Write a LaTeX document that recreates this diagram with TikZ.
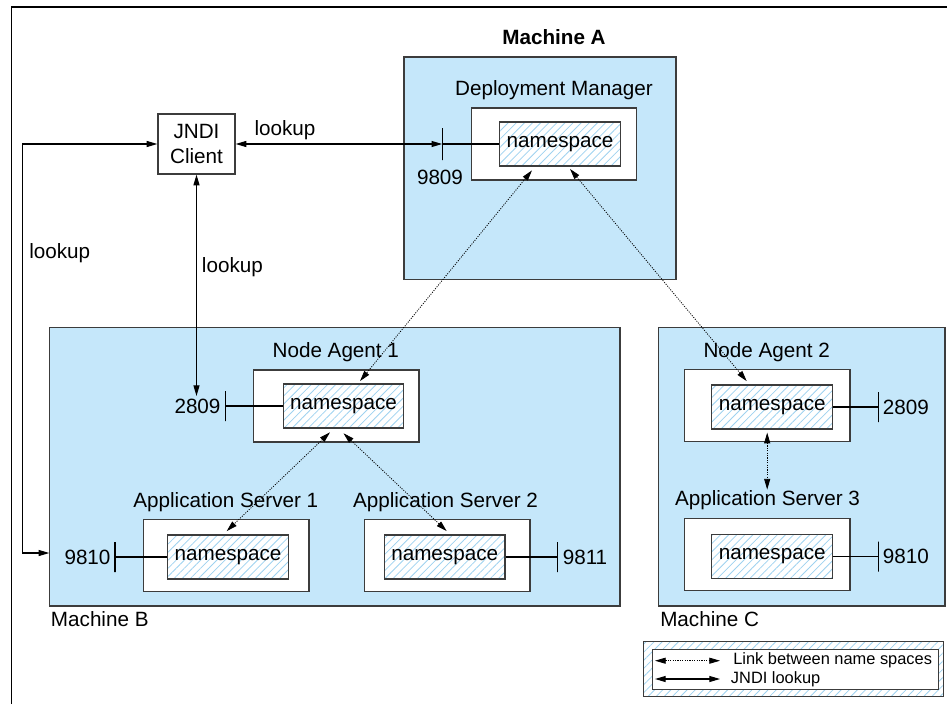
\documentclass[tikz,border=0pt]{standalone}
\usepackage{fontspec}
\setmainfont{Liberation Sans}
\usepackage{tikz}
\usetikzlibrary{positioning,arrows.meta,patterns.meta}
\definecolor{machinefill}{RGB}{197,231,250}
\definecolor{boxline}{RGB}{60,60,60}
\definecolor{hatch}{RGB}{158,210,240}
\tikzstyle{machine} = [draw=boxline, line width=1pt, fill=machinefill, inner sep=0pt]
\tikzstyle{server} = [draw=boxline, line width=1pt, fill=white, minimum width=124pt, minimum height=54pt, inner sep=0pt]
\tikzstyle{ns} = [draw=boxline, line width=0.9pt, preaction={fill=white}, pattern={Lines[angle=45,distance=4.3pt,line width=0.6pt]}, pattern color=hatch, minimum width=90.5pt, minimum height=33pt, inner sep=0pt]
\tikzstyle{port} = [draw, line width=0.8pt, minimum width=0pt, minimum height=22.5pt, inner sep=0pt]
\tikzstyle{lookup} = [line width=0.8pt, {Triangle[length=8pt,width=4.5pt]}-{Triangle[length=8pt,width=4.5pt]}]
\tikzstyle{link} = [line width=0.6pt, dash pattern=on 0.8pt off 1pt, {Triangle[length=8pt,width=4.5pt]}-{Triangle[length=8pt,width=4.5pt]}]
\tikzstyle{lbl} = [inner sep=0pt, font=\fontsize{15.5}{18}\selectfont]
\tikzstyle{small} = [inner sep=0pt, font=\fontsize{12.3}{15}\selectfont]

\begin{document}
\begin{tikzpicture}[x=0.75pt, y=-0.75pt]
	\useasboundingbox (0,0) rectangle (947,704);
	\draw[line width=1pt] (11.5,704) -- (11.5,7) -- (947,7);
	\node[machine, minimum width=204pt, minimum height=166.7pt] (ma) at (540,168.2) {};
	\node[machine, minimum width=428pt, minimum height=209pt] (mb) at (334.7,466.7) {};
	\node[machine, minimum width=215pt, minimum height=209pt] (mc) at (801.7,466.7) {};
	\node[lbl, font=\fontsize{15.5}{18}\selectfont\bfseries] (malbl) at (554,37.5) {Machine A};
	\node[lbl, anchor=west] (mblbl) at (50.7,619.3) {Machine B};
	\node[lbl, anchor=west] (mclbl) at (660,619.3) {Machine C};
	\node[server] (dm) at (554,144) {};
	\node[server] (na1) at (336.2,406) {};
	\node[server] (as1) at (226.2,555.2) {};
	\node[server] (as2) at (447.2,555.2) {};
	\node[server] (na2) at (767.2,405.5) {};
	\node[server] (as3) at (767.2,554.4) {};
	\node[lbl] (dmlbl) at (554,90) {Deployment Manager};
	\node[lbl] (na1lbl) at (335.8,352.3) {Node Agent 1};
	\node[lbl] (as1lbl) at (225.8,501.7) {Application Server 1};
	\node[lbl] (as2lbl) at (445.5,501.7) {Application Server 2};
	\node[lbl] (na2lbl) at (766.7,351.7) {Node Agent 2};
	\node[lbl] (as3lbl) at (767.5,500) {Application Server 3};
	\node[ns, lbl] (dmns) at (560,144) {namespace};
	\node[ns, lbl] (na1ns) at (343.5,406) {namespace};
	\node[ns, lbl] (as1ns) at (228,557) {namespace};
	\node[ns, lbl] (as2ns) at (444.7,557) {namespace};
	\node[ns, lbl] (na2ns) at (772.2,407) {namespace};
	\node[ns, lbl] (as3ns) at (772.2,556.5) {namespace};
	\node[port, minimum height=24pt] (p9809) at (442.7,144) {};
	\node[port] (p2809a) at (225.3,406) {};
	\node[port] (p9810a) at (115,557) {};
	\node[port] (p9811) at (557.7,557) {};
	\node[port] (p2809b) at (878.3,407) {};
	\node[port] (p9810b) at (878.3,556.5) {};
	\node[lbl] (l9809) at (440,177) {9809};
	\node[lbl] (l2809a) at (197.5,406) {2809};
	\node[lbl] (l9810a) at (87.5,557) {9810};
	\node[lbl] (l9811) at (585,557) {9811};
	\node[lbl] (l2809b) at (905.8,407) {2809};
	\node[lbl] (l9810b) at (905.8,556.5) {9810};
	\draw[line width=0.8pt] (dmns) -- (p9809);
	\draw[line width=0.8pt] (na1ns) -- (p2809a);
	\draw[line width=0.8pt] (as1ns) -- (p9810a);
	\draw[line width=0.8pt] (as2ns) -- (p9811);
	\draw[line width=0.8pt] (na2ns) -- (p2809b);
	\draw[line width=0.8pt] (as3ns) -- (p9810b);
	\node[draw=boxline, line width=1pt, fill=white, minimum width=57.75pt, minimum height=45pt, align=center, lbl, font=\fontsize{15.5}{18.5}\selectfont] (jndi) at (196.5,144) {JNDI\\Client};
	\coordinate (mbin) at (49.3,553);
	\coordinate (na1in) at (196.5,396);
	\draw[lookup] (jndi) -- (p9809);
	\draw[lookup] (jndi.west) -- ++(-134.7,0) |- (mbin);
	\draw[lookup] (jndi.south) -- (na1in);
	\node[lbl] (lk1) at (285,130) {lookup};
	\node[lbl, anchor=west] (lk2) at (29,253) {lookup};
	\node[lbl, anchor=west] (lk3) at (201.7,266.7) {lookup};
	\draw[link] ([shift={(-28,4)}]dmns.south) -- ([shift={(16.5,-2.3)}]na1ns.north);
	\draw[link] ([shift={(10,2.5)}]dmns.south) -- ([shift={(-25.5,-3.3)}]na2ns.north);
	\draw[link] ([shift={(-13.5,3.7)}]na1ns.south) -- ([shift={(-1.3,-3.3)}]as1ns.north);
	\draw[link] ([shift={(0,4.7)}]na1ns.south) -- ([shift={(2,-3.3)}]as2ns.north);
	\draw[link] ([shift={(-5,3)}]na2ns.south) -- ([shift={(-5,-44.3)}]as3ns.north);
	\node[draw=boxline, line width=1pt, preaction={fill=white}, pattern={Lines[angle=45,distance=4.3pt,line width=0.6pt]}, pattern color=hatch, minimum width=225pt, minimum height=41.25pt, inner sep=0pt] (legend) at (793.3,669.2) {};
	\node[draw=boxline, line width=0.9pt, fill=white, minimum width=214.2pt, minimum height=30pt, inner sep=0pt] (legendin) at (795.5,669.3) {};
	\coordinate (l1a) at (655,660.7);
	\coordinate (l1b) at (720,660.7);
	\coordinate (l2a) at (655,679);
	\coordinate (l2b) at (720,679);
	\draw[link] (l1a) -- (l1b);
	\draw[lookup] (l2a) -- (l2b);
	\node[small, anchor=west] (leg1) at (733,660.7) {Link between name spaces};
	\node[small, anchor=west] (leg2) at (730.7,679) {JNDI lookup};
\end{tikzpicture}
\end{document}
